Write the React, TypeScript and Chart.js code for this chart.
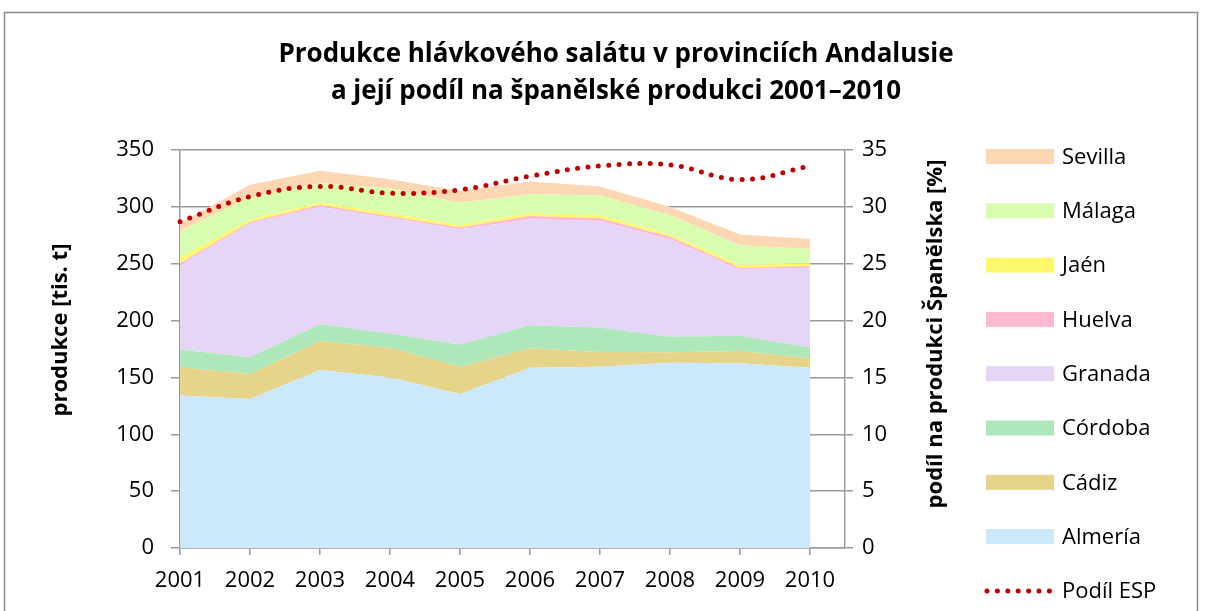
import React, { useEffect, useRef } from "react";
import { Chart, registerables } from "chart.js";

Chart.register(...registerables);

// ---- Data ----
const years = [2001, 2002, 2003, 2004, 2005, 2006, 2007, 2008, 2009, 2010];
const almeria = [134, 131, 156.5, 150, 135.4, 158.6, 159.5, 163, 162.4, 158.6];
const cadiz = [25, 22, 25.5, 26, 24, 17, 12.9, 9.1, 10.9, 8.2];
const cordoba = [15.5, 14.7, 14.7, 12.6, 19.6, 20.2, 21.4, 13.7, 13.4, 9.4];
const granada = [74, 117.6, 103.5, 101.7, 101.2, 93.2, 93.8, 85.7, 58.4, 70.3];
const huelva = [1.8, 1.4, 1.5, 1.5, 1.7, 3, 2.4, 2.3, 1.4, 1.5];
const jaen = [5, 2, 2, 2.4, 2, 2.4, 2.3, 1.8, 2.4, 2.4];
const malaga = [23.5, 19.5, 17, 22, 19.7, 16.9, 17.6, 17.3, 17.3, 12.6];
const sevilla = [7, 11.3, 11, 8, 10.3, 10.9, 7.9, 7.3, 9.4, 8.8];
const podilEsp = [28.7, 30.9, 31.8, 31.2, 31.5, 32.7, 33.6, 33.7, 32.4, 33.6];

const provinceNames = ["Almería", "Cádiz", "Córdoba", "Granada", "Huelva", "Jaén", "Málaga", "Sevilla"];
const provinceSeries = [almeria, cadiz, cordoba, granada, huelva, jaen, malaga, sevilla];
const provinceColors = ["#CCE9FC", "#E6D48A", "#AEE8BA", "#E5D5F6", "#FFBAD2", "#FFF76A", "#D8FDAE", "#FDD6B3"];
const lineName = "Podíl ESP";
const lineColor = "#C00000";

const titleLines = ["Produkce hlávkového salátu v provinciích Andalusie", "a její podíl na španělské produkci 2001–2010"];
const leftAxisTitle = "produkce [tis. t]";
const rightAxisTitle = "podíl na produkci Španělska [%]";

const FONT = "'Open Sans', 'Noto Sans', sans-serif";
const GRID = "#9A9A9A";

const decorPlugin = {
  id: "decor",
  beforeDraw(chart: any) {
    const ctx = chart.ctx;
    ctx.save();
    ctx.fillStyle = "#FFFFFF";
    ctx.fillRect(0, 0, chart.width, chart.height);
    ctx.strokeStyle = "#8C8C8C";
    ctx.lineWidth = 1.5;
    ctx.strokeRect(4.5, 12.5, 1193, 640);
    ctx.restore();
  },
  afterDraw(chart: any) {
    const ctx = chart.ctx;
    ctx.save();
    ctx.fillStyle = "#000";
    // Title
    ctx.font = `bold 26px ${FONT}`;
    ctx.textAlign = "center";
    ctx.textBaseline = "alphabetic";
    ctx.fillText(titleLines[0], 616, 62);
    ctx.fillText(titleLines[1], 616, 99);
    // Axis titles
    ctx.font = `bold 22px ${FONT}`;
    ctx.textBaseline = "middle";
    ctx.save();
    ctx.translate(61, 330);
    ctx.rotate(-Math.PI / 2);
    ctx.fillText(leftAxisTitle, 0, 0);
    ctx.restore();
    ctx.save();
    ctx.translate(936, 334);
    ctx.rotate(-Math.PI / 2);
    ctx.fillText(rightAxisTitle, 0, 0);
    ctx.restore();
    // Legend
    const ds = chart.data.datasets;
    const areas = ds.filter((d: any) => d.fill !== false).slice().reverse();
    const lines = ds.filter((d: any) => d.fill === false);
    const items = [...areas, ...lines];
    ctx.font = `22px ${FONT}`;
    ctx.textAlign = "left";
    ctx.textBaseline = "middle";
    items.forEach((d: any, i: number) => {
      const y = 156.5 + i * 54.3;
      if (d.fill === false) {
        ctx.save();
        ctx.strokeStyle = d.borderColor;
        ctx.lineWidth = d.borderWidth;
        ctx.lineCap = "round";
        ctx.setLineDash(d.borderDash);
        ctx.beginPath();
        ctx.moveTo(987, y);
        ctx.lineTo(1053, y);
        ctx.stroke();
        ctx.restore();
      } else {
        ctx.fillStyle = d.backgroundColor;
        ctx.fillRect(986, y - 7.5, 68, 15);
      }
      ctx.fillStyle = "#000";
      ctx.fillText(d.label, 1062, y + 1);
    });
    ctx.restore();
  },
};

export default function App() {
  const ref = useRef<HTMLCanvasElement | null>(null);

  useEffect(() => {
    const canvas = ref.current;
    if (!canvas) return;

    const areaSets = provinceSeries.map((arr, k) => ({
      type: "line" as const,
      label: provinceNames[k],
      data: years.map((x, i) => ({ x, y: arr[i] })),
      yAxisID: "y",
      fill: k === 0 ? "origin" : "-1",
      backgroundColor: provinceColors[k],
      borderColor: provinceColors[k],
      borderWidth: 0,
      pointRadius: 0,
      tension: 0,
      order: 1,
    }));

    const lineSet = {
      type: "line" as const,
      label: lineName,
      data: years.map((x, i) => ({ x, y: podilEsp[i] })),
      yAxisID: "y2",
      fill: false,
      borderColor: lineColor,
      backgroundColor: lineColor,
      borderWidth: 5,
      borderDash: [0, 10.4],
      borderCapStyle: "round",
      pointRadius: 0,
      tension: 0.4,
      order: 0,
      clip: false,
    };

    const chart = new Chart(canvas, {
      type: "line",
      data: { datasets: [...areaSets, lineSet] as any },
      plugins: [decorPlugin],
      options: {
        animation: false,
        responsive: false,
        devicePixelRatio: 1,
        layout: { padding: { top: 150, left: 0, right: 0, bottom: 0 } },
        plugins: { legend: { display: false }, tooltip: { enabled: false }, title: { display: false } },
        scales: {
          x: {
            type: "linear",
            min: 2001,
            max: 2010.5,
            afterBuildTicks: (s: any) => {
              s.ticks = years.map((v) => ({ value: v }));
            },
            afterFit: (s: any) => {
              s.height = 63;
            },
            ticks: {
              autoSkip: false,
              maxRotation: 0,
              color: "#000",
              font: { family: FONT, size: 22 },
              padding: 13,
              callback: (v: any) => String(v),
            },
            grid: { drawOnChartArea: false, drawTicks: true, tickLength: 7, color: GRID, lineWidth: 1.5 },
            border: { display: true, color: GRID, width: 1.5 },
          },
          y: {
            type: "linear",
            position: "left",
            stacked: true,
            min: 0,
            max: 350,
            afterFit: (s: any) => {
              s.width = 180;
            },
            ticks: {
              stepSize: 50,
              color: "#000",
              font: { family: FONT, size: 22 },
              padding: 17,
            },
            grid: { color: GRID, lineWidth: 1.5, tickLength: 9 },
            border: { display: true, color: GRID, width: 1.5 },
          },
          y2: {
            type: "linear",
            position: "right",
            stacked: false,
            min: 0,
            max: 35,
            afterFit: (s: any) => {
              s.width = 1206 - 845;
            },
            ticks: {
              stepSize: 5,
              color: "#000",
              font: { family: FONT, size: 22 },
              padding: 9,
            },
            grid: { drawOnChartArea: false, color: GRID, lineWidth: 1.5, tickLength: 8 },
            border: { display: true, color: GRID, width: 1.5 },
          },
        },
      } as any,
    });

    return () => chart.destroy();
  }, []);

  return (
    <canvas
      ref={ref}
      width={1206}
      height={611}
      style={{ position: "absolute", left: 0, top: 0, width: 1206, height: 611 }}
    />
  );
}
